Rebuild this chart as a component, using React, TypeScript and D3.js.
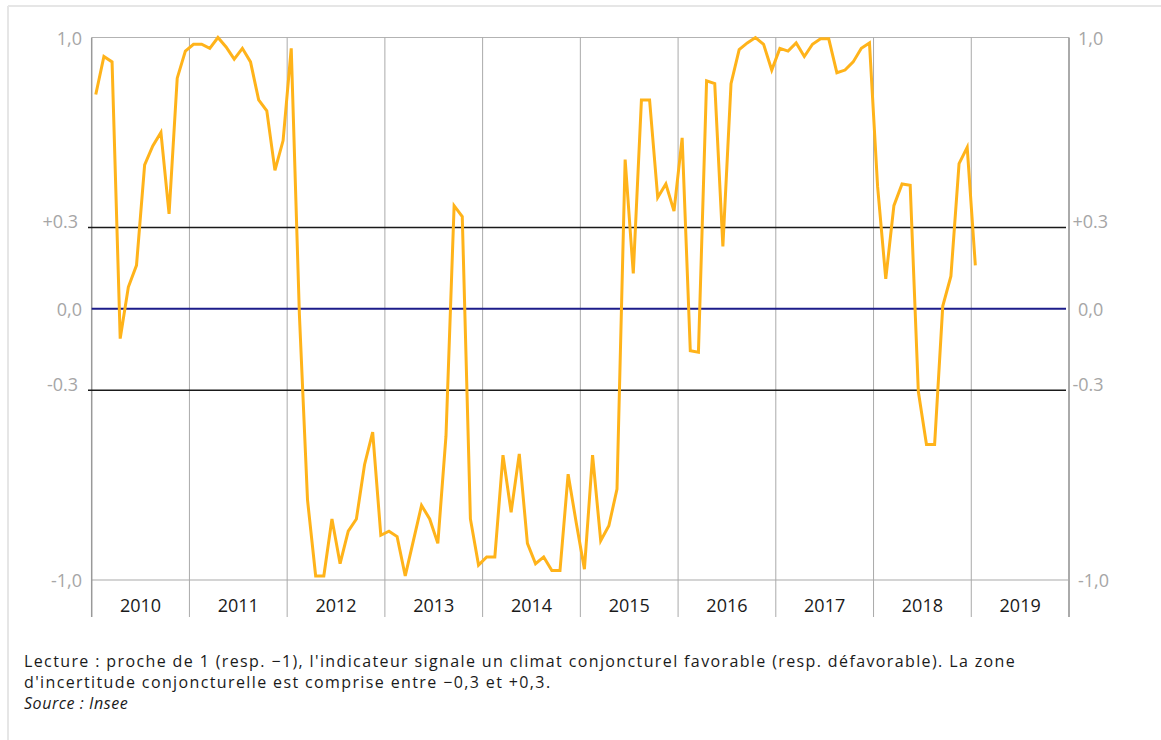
import React from 'react';
import * as d3 from 'd3';

// year categories along the bottom
const years = [2010, 2011, 2012, 2013, 2014, 2015, 2016, 2017, 2018, 2019];

// monthly climate indicator, Jan 2010 -> Jan 2019
const values2010 = [0.79, 0.93, 0.91, -0.11, 0.08, 0.16, 0.53, 0.6, 0.65, 0.35, 0.85, 0.95];
const values2011 = [0.975, 0.975, 0.96, 1.0, 0.965, 0.92, 0.96, 0.91, 0.77, 0.73, 0.51, 0.62];
const values2012 = [0.96, -0.02, -0.705, -0.985, -0.985, -0.775, -0.94, -0.82, -0.775, -0.575, -0.455, -0.835];
const values2013 = [-0.82, -0.84, -0.985, -0.855, -0.725, -0.775, -0.865, -0.47, 0.38, 0.34, -0.775, -0.945];
const values2014 = [-0.915, -0.915, -0.54, -0.75, -0.535, -0.865, -0.94, -0.915, -0.965, -0.965, -0.61, -0.79];
const values2015 = [-0.96, -0.54, -0.855, -0.8, -0.665, 0.55, 0.13, 0.77, 0.77, 0.41, 0.46, 0.36];
const values2016 = [0.63, -0.155, -0.16, 0.84, 0.83, 0.23, 0.83, 0.955, 0.98, 1.0, 0.975, 0.88];
const values2017 = [0.96, 0.95, 0.98, 0.93, 0.975, 0.995, 0.995, 0.87, 0.88, 0.91, 0.96, 0.98];
const values2018 = [0.45, 0.11, 0.38, 0.46, 0.455, -0.305, -0.5, -0.5, 0.01, 0.12, 0.535, 0.595];
const values2019 = [0.16];

// y axis labels (value, text)
const yTickValues = [1, 0.3, 0, -0.3, -1];
const yTickLabels = ['1,0', '+0.3', '0,0', '-0.3', '-1,0'];

// horizontal reference lines
const refLines = [0.3, 0, -0.3];

const noteLines = [
    "Lecture : proche de 1 (resp. \u22121), l'indicateur signale un climat conjoncturel favorable (resp. d\u00e9favorable). La zone",
    "d'incertitude conjoncturelle est comprise entre \u22120,3 et +0,3.",
];
const sourceText = 'Source : Insee';

const W = 1161;
const H = 740;
const left = 91.7;
const right = 1069;
const top = 37.5;
const bottom = 580;
const labelBottom = 617;
const font = '"Open Sans", sans-serif';

export default function App() {
    const series = [
        values2010, values2011, values2012, values2013, values2014,
        values2015, values2016, values2017, values2018, values2019,
    ].flat();

    const x = d3.scaleLinear().domain([years[0], years[years.length - 1] + 1]).range([left, right]);
    const y = d3.scaleLinear().domain([-1, 1]).range([bottom, top]);

    const line = d3.line<number>()
        .x((d, i) => x(years[0] + (i + 0.5) / 12))
        .y(d => y(d));

    const isBand = (v: number) => Math.abs(v) === 0.3;
    const noteStyle = { fontSize: 16, fill: '#1a1a1a', letterSpacing: 1.38 };

    return (
        <svg width={W} height={H} style={{ position: 'absolute', left: 0, top: 0, fontFamily: font }}>
            <rect x={0} y={0} width={W} height={H} fill="#fff" />
            {/* outer frame */}
            <line x1={8} x2={W} y1={6} y2={6} stroke="#e6e6e6" strokeWidth={2} />
            <line x1={8} x2={8} y1={6} y2={H} stroke="#e6e6e6" strokeWidth={2} />

            {/* plot frame */}
            <line x1={left} x2={right} y1={top} y2={top} stroke="#b3b3b3" strokeWidth={1} />
            <line x1={left} x2={right} y1={bottom} y2={bottom} stroke="#aaa" strokeWidth={1.2} />

            {/* year gridlines + labels */}
            {years.map((yr, i) => (
                <g key={yr}>
                    {i > 0 && (
                        <line x1={x(yr)} x2={x(yr)} y1={top} y2={labelBottom} stroke="#aaa" strokeWidth={1} />
                    )}
                    <text x={x(yr + 0.5)} y={605} textAnchor="middle" dominantBaseline="central"
                        style={{ fontSize: 18, fill: '#1a1a1a' }}>{yr}</text>
                </g>
            ))}
            <line x1={left} x2={left} y1={top} y2={labelBottom} stroke="#999" strokeWidth={1.5} />
            <line x1={right} x2={right} y1={top} y2={labelBottom} stroke="#aaa" strokeWidth={2} />

            {/* reference lines */}
            {refLines.map(v => (
                <line key={v} x1={v === 0 ? left : 88} x2={1066} y1={y(v)} y2={y(v)}
                    stroke={v === 0 ? '#1c1c8a' : '#1a1a1a'} strokeWidth={v === 0 ? 2 : 1.5} />
            ))}

            {/* y labels both sides */}
            {yTickValues.map((v, i) => (
                <g key={v} style={{ fontSize: 18, fill: '#a6a6a6' }}>
                    <text x={isBand(v) ? 78 : 82} y={isBand(v) ? y(v) - 6 : y(v)} textAnchor="end" dominantBaseline="central">
                        {yTickLabels[i]}
                    </text>
                    <text x={isBand(v) ? 1072.5 : 1078} y={isBand(v) ? y(v) - 6 : y(v)} textAnchor="start" dominantBaseline="central">
                        {yTickLabels[i]}
                    </text>
                </g>
            ))}

            {/* indicator */}
            <path d={line(series) || ''} fill="none" stroke="#ffb31a" strokeWidth={3} strokeLinejoin="miter" />

            {/* notes */}
            <text x={24} y={667} style={noteStyle}>{noteLines[0]}</text>
            <text x={24} y={688} style={noteStyle}>{noteLines[1]}</text>
            <text x={24} y={709} style={{ ...noteStyle, letterSpacing: 0.55, fontStyle: 'italic' }}>{sourceText}</text>
        </svg>
    );
}
